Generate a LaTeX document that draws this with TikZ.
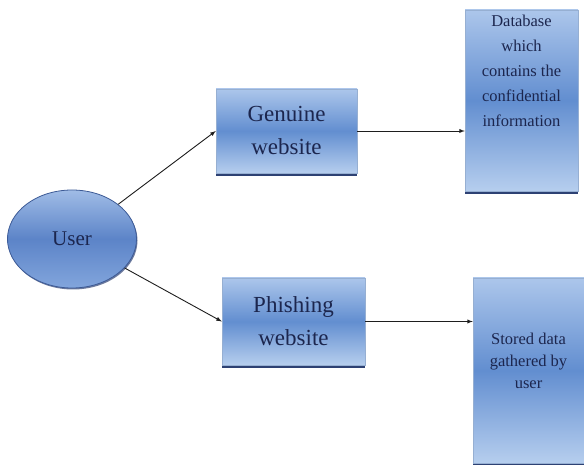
\documentclass[tikz,border=0pt]{standalone}
\usepackage{fontspec}
\setmainfont{Liberation Serif}
\usepackage{tikz}
\usetikzlibrary{arrows,shapes.geometric,shadows}
\definecolor{boxtop}{RGB}{172,198,235}
\definecolor{boxmid}{RGB}{98,142,208}
\definecolor{boxbot}{RGB}{182,206,238}
\definecolor{boxedge}{RGB}{150,175,210}
\definecolor{boxshade}{RGB}{45,65,115}
\definecolor{usertop}{RGB}{160,188,230}
\definecolor{usermid}{RGB}{92,132,200}
\definecolor{userbot}{RGB}{130,165,220}
\definecolor{useredge}{RGB}{60,90,150}
\definecolor{textnavy}{RGB}{28,38,78}
\definecolor{arrowgrey}{RGB}{30,30,30}
\newcommand{\bigtext}{\fontsize{23}{33}\selectfont}
\newcommand{\smalltext}{\fontsize{16.5}{25}\selectfont}
\tikzset{
	blockbox/.style={rectangle, draw=boxedge, thin, inner sep=0pt,
		top color=boxtop, bottom color=boxbot, middle color=boxmid,
		general shadow={fill=boxshade, shadow yshift=-3pt},
		text=textnavy, align=center},
	userbubble/.style={ellipse, draw=useredge, thick, inner sep=0pt,
		top color=usertop, bottom color=userbot, middle color=usermid,
		general shadow={fill=boxshade!70, shadow xshift=1pt, shadow yshift=-1.5pt},
		text=textnavy},
	flow/.style={->, >=latex, color=arrowgrey, line width=0.9pt}
}
\begin{document}
\begin{tikzpicture}[x=1pt,y=1pt]
	\useasboundingbox (0,0) rectangle (584,465);
	% user and the two websites
	\node[userbubble, minimum width=129pt, minimum height=98pt, font=\fontsize{21}{25}\selectfont] (user) at (72,226) {User};
	\node[blockbox, minimum width=141pt, minimum height=84pt, font=\bigtext] (genuine) at (286.5,334) {Genuine\\website};
	\node[blockbox, minimum width=143pt, minimum height=87pt, font=\bigtext] (phishing) at (293.5,143.5) {Phishing\\website};
	% where the data ends up
	\node[blockbox, minimum width=113pt, minimum height=181pt, font=\smalltext] (database) at (521.5,364.5)
		{\parbox[c][171pt][t]{110pt}{\centering Database\\which\\contains the\\confidential\\information}};
	\node[blockbox, minimum width=111pt, minimum height=185pt, font=\fontsize{16.5}{22}\selectfont] (stored) at (528.5,94.5)
		{\parbox[c][170pt][c]{108pt}{\centering Stored data\\gathered by\\user\par\vspace{20pt}}};
	\path[flow]
	(user) edge (genuine.west)
		edge (phishing.west)
	(genuine.east) edge (genuine.east -| database.west)
	(phishing.east) edge (phishing.east -| stored.west);
\end{tikzpicture}
\end{document}
